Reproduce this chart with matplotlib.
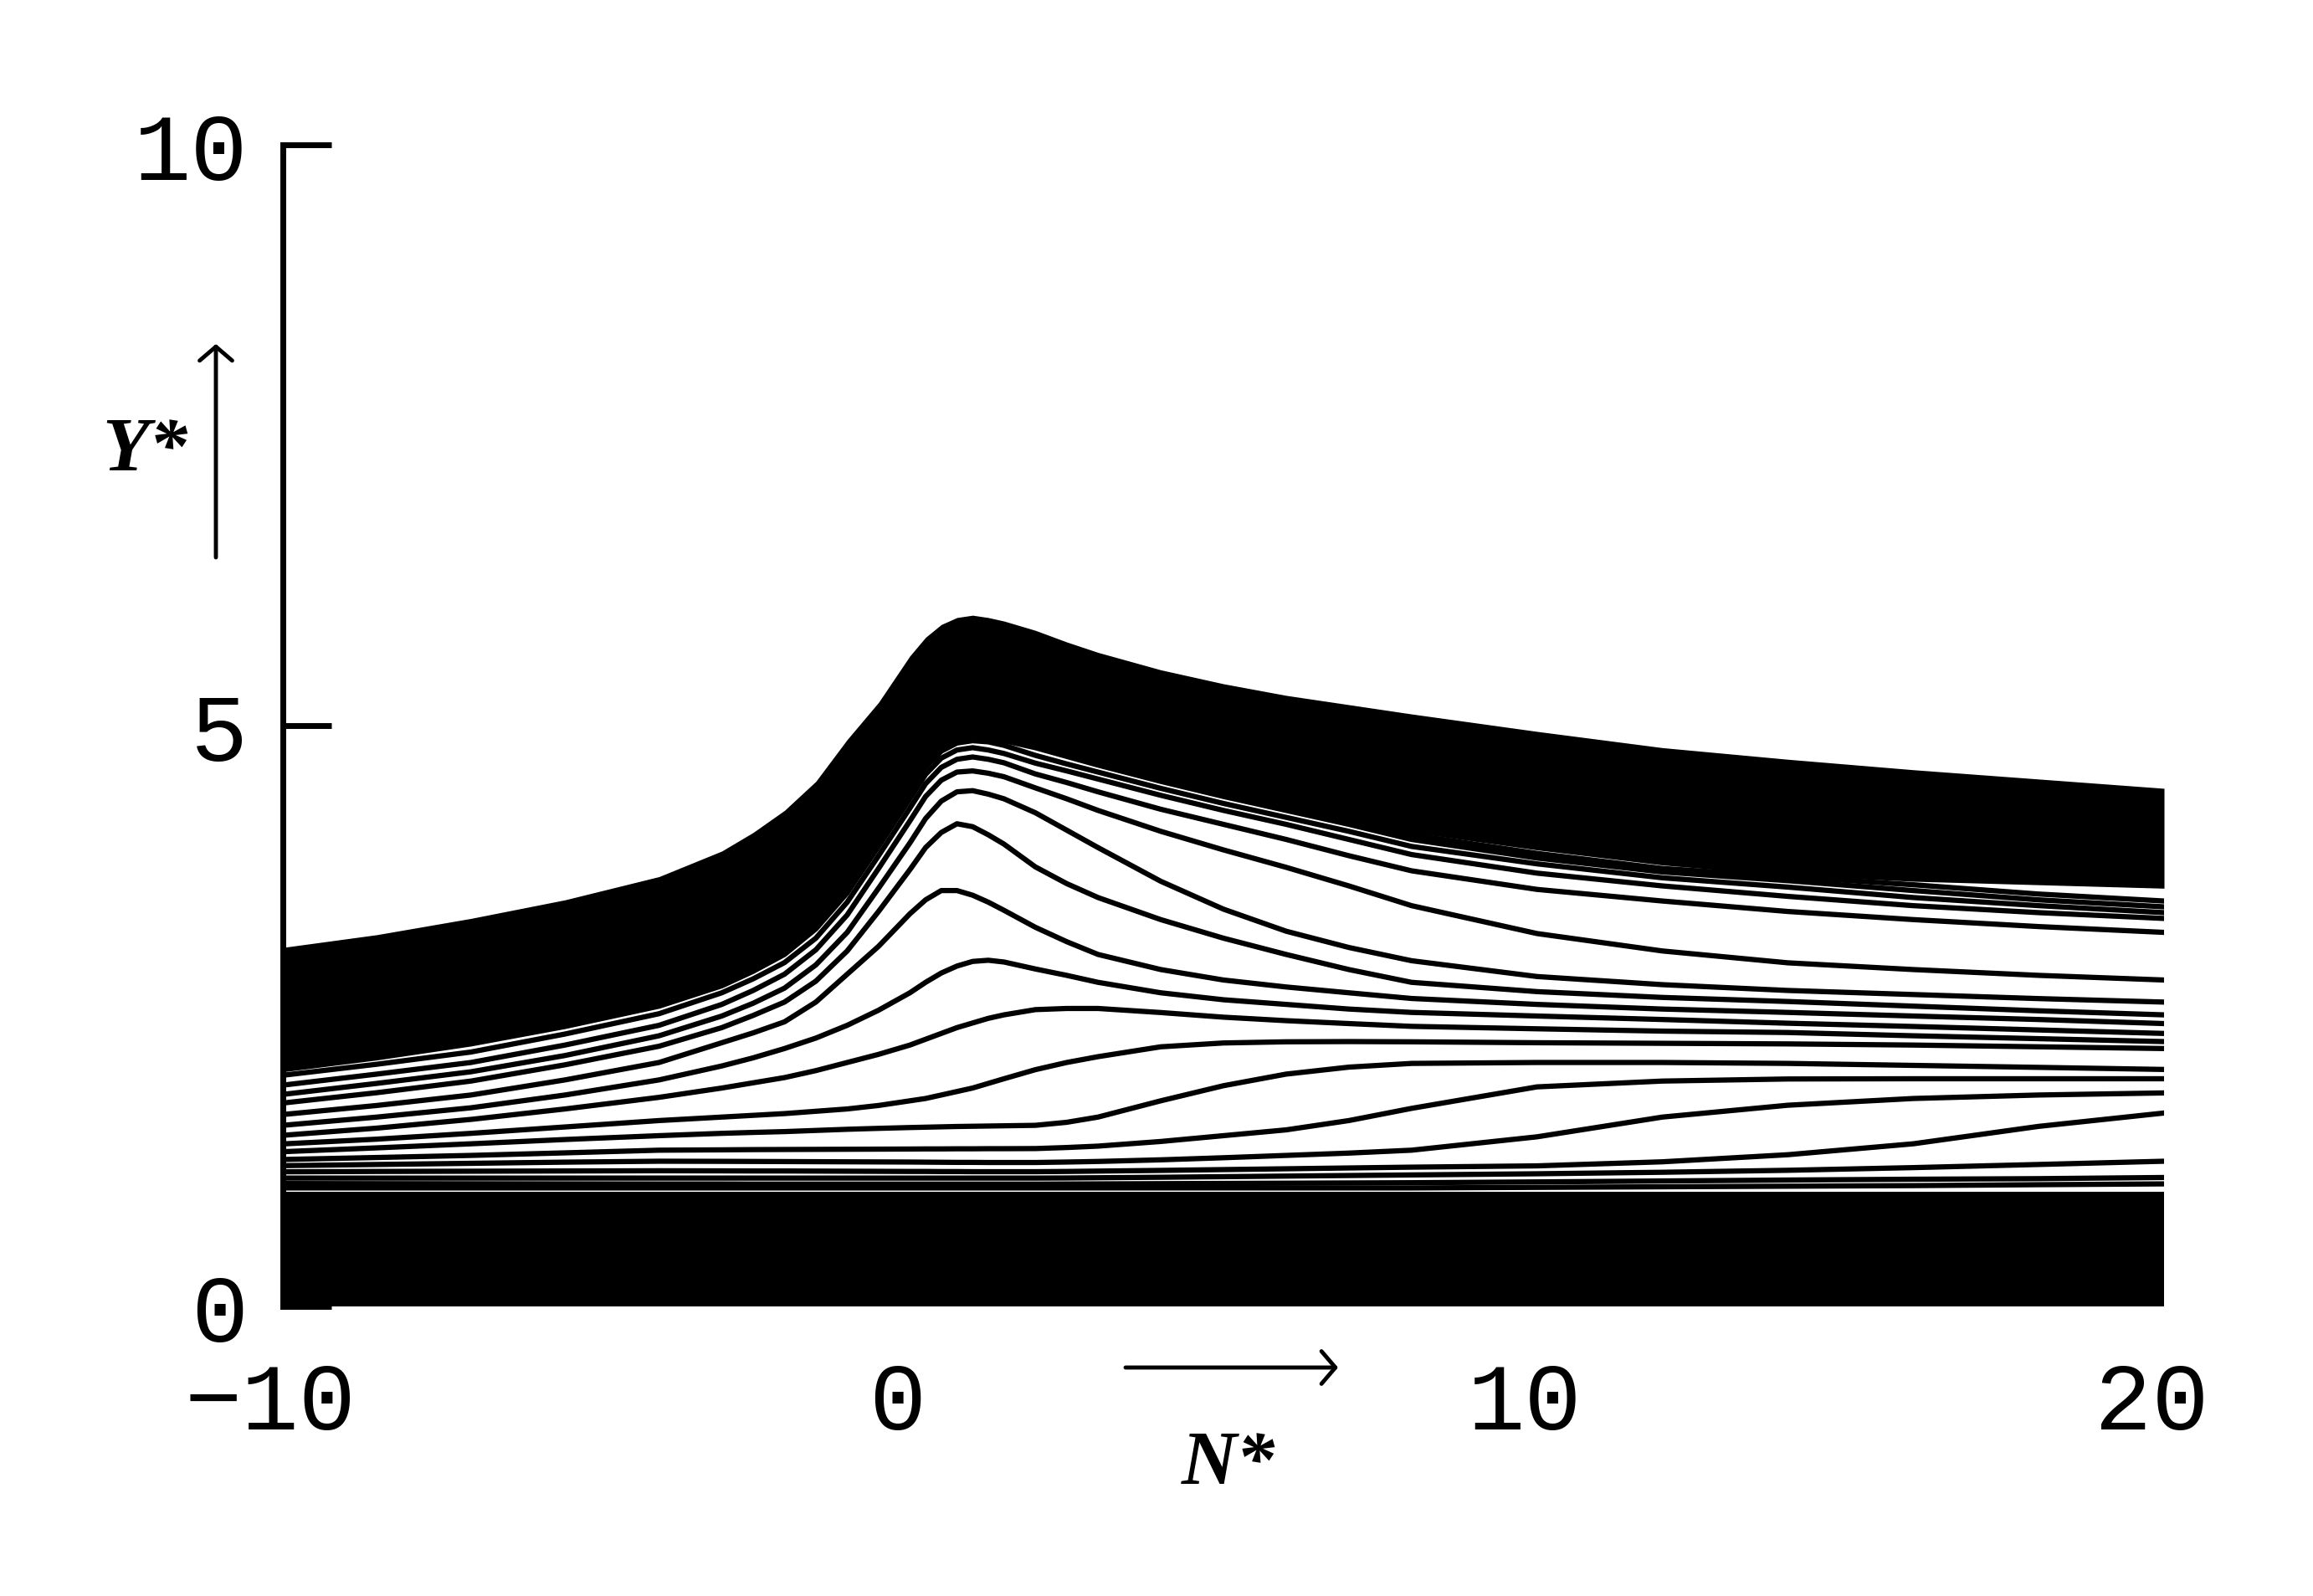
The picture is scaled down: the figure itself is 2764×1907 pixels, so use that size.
import matplotlib
matplotlib.use("Agg")
import matplotlib.pyplot as plt
from matplotlib.patches import FancyArrowPatch
from matplotlib.transforms import ScaledTranslation

N_GRID = [-10, -8.5, -7, -5.5, -4, -3, -2.5, -2, -1.5, -1, -0.5, 0, 0.25, 0.5, 0.75, 1,
          1.25, 1.5, 2, 2.5, 3, 4, 5, 6, 7, 8, 10, 12, 14, 16, 18, 20]

# upper black band (streamlines packed too close to resolve)
BAND_TOP = [3.09, 3.20, 3.34, 3.50, 3.70, 3.92, 4.08, 4.27, 4.52, 4.88, 5.20, 5.60, 5.76, 5.87, 5.93, 5.95,
            5.93, 5.90, 5.82, 5.72, 5.63, 5.48, 5.36, 5.26, 5.18, 5.10, 4.95, 4.81, 4.71, 4.62, 4.54, 4.46]
BAND_BOTTOM = [2.08, 2.20, 2.33, 2.49, 2.665, 2.84, 2.96, 3.10, 3.33, 3.65, 4.05, 4.47, 4.70, 4.85, 4.92, 4.94,
               4.93, 4.91, 4.85, 4.78, 4.71, 4.56, 4.43, 4.31, 4.19, 4.08, 3.93, 3.80, 3.71, 3.66, 3.63, 3.60]
# lower black band, from the wall up to this
LOW_BAND_TOP = [0.99, 0.99, 0.99, 0.99, 0.99, 0.99, 0.99, 0.99, 0.99, 0.99, 0.99, 0.99, 0.99, 0.99, 0.99, 0.99,
                0.99, 0.99, 0.99, 0.99, 0.99, 0.99, 0.99, 0.99, 0.99, 0.99, 0.99, 0.99, 0.99, 0.99, 0.99, 0.99]

# separate streamlines, bottom to top
S01 = [1.02, 1.02, 1.02, 1.02, 1.02, 1.02, 1.02, 1.02, 1.02, 1.02, 1.02, 1.02, 1.02, 1.02, 1.02, 1.02,
       1.02, 1.02, 1.02, 1.02, 1.02, 1.02, 1.02, 1.02, 1.02, 1.02, 1.025, 1.03, 1.035, 1.04, 1.048, 1.055]
S02 = [1.058, 1.057, 1.056, 1.055, 1.054, 1.054, 1.053, 1.053, 1.053, 1.053, 1.053, 1.053, 1.053, 1.053, 1.053, 1.053,
       1.053, 1.053, 1.053, 1.054, 1.055, 1.057, 1.059, 1.061, 1.063, 1.065, 1.072, 1.08, 1.088, 1.095, 1.10, 1.11]
S03 = [1.105, 1.105, 1.105, 1.105, 1.105, 1.105, 1.105, 1.105, 1.105, 1.105, 1.105, 1.105, 1.105, 1.105, 1.105, 1.105,
       1.105, 1.105, 1.105, 1.106, 1.108, 1.112, 1.117, 1.122, 1.127, 1.132, 1.142, 1.155, 1.172, 1.195, 1.222, 1.25]
S04 = [1.159, 1.162, 1.164, 1.166, 1.168, 1.167, 1.166, 1.166, 1.165, 1.164, 1.163, 1.162, 1.162, 1.161, 1.161, 1.160,
       1.160, 1.160, 1.160, 1.162, 1.165, 1.171, 1.178, 1.185, 1.192, 1.199, 1.21, 1.245, 1.306, 1.40, 1.55, 1.665]
S05 = [1.212, 1.222, 1.232, 1.242, 1.25, 1.249, 1.248, 1.247, 1.246, 1.245, 1.244, 1.243, 1.242, 1.241, 1.240, 1.240,
       1.239, 1.239, 1.239, 1.243, 1.248, 1.262, 1.28, 1.30, 1.32, 1.345, 1.46, 1.63, 1.732, 1.79, 1.82, 1.838]
S06 = [1.265, 1.282, 1.30, 1.322, 1.345, 1.348, 1.35, 1.351, 1.352, 1.353, 1.354, 1.355, 1.356, 1.356, 1.357, 1.357,
       1.358, 1.358, 1.359, 1.368, 1.38, 1.42, 1.47, 1.52, 1.60, 1.705, 1.89, 1.94, 1.958, 1.96, 1.96, 1.96]
S07 = [1.332, 1.365, 1.40, 1.437, 1.47, 1.49, 1.498, 1.505, 1.515, 1.525, 1.533, 1.54, 1.543, 1.546, 1.549, 1.551,
       1.553, 1.555, 1.559, 1.585, 1.63, 1.77, 1.90, 2.00, 2.06, 2.092, 2.10, 2.10, 2.092, 2.075, 2.058, 2.04]
S08 = [1.399, 1.44, 1.49, 1.545, 1.60, 1.63, 1.645, 1.66, 1.68, 1.70, 1.73, 1.77, 1.79, 1.82, 1.85, 1.88,
       1.92, 1.96, 2.038, 2.10, 2.15, 2.235, 2.268, 2.278, 2.28, 2.278, 2.27, 2.265, 2.26, 2.25, 2.235, 2.22]
S09 = [1.473, 1.535, 1.61, 1.70, 1.80, 1.88, 1.925, 1.97, 2.03, 2.10, 2.17, 2.25, 2.30, 2.35, 2.40, 2.44,
       2.48, 2.51, 2.555, 2.565, 2.565, 2.53, 2.49, 2.46, 2.435, 2.411, 2.39, 2.37, 2.358, 2.33, 2.305, 2.28]
S10 = [1.559, 1.63, 1.71, 1.82, 1.95, 2.07, 2.14, 2.22, 2.31, 2.42, 2.55, 2.70, 2.79, 2.87, 2.93, 2.97,
       2.98, 2.965, 2.905, 2.85, 2.79, 2.70, 2.64, 2.60, 2.56, 2.531, 2.50, 2.47, 2.438, 2.41, 2.38, 2.35]
S11 = [1.652, 1.73, 1.82, 1.95, 2.10, 2.27, 2.355, 2.45, 2.62, 2.86, 3.10, 3.38, 3.50, 3.58, 3.58, 3.54,
       3.48, 3.41, 3.264, 3.14, 3.03, 2.90, 2.81, 2.75, 2.70, 2.651, 2.60, 2.56, 2.531, 2.50, 2.47, 2.435]
S12 = [1.751, 1.84, 1.94, 2.08, 2.24, 2.40, 2.505, 2.62, 2.80, 3.06, 3.40, 3.76, 3.95, 4.08, 4.155, 4.13,
       4.06, 3.98, 3.784, 3.64, 3.52, 3.33, 3.17, 3.03, 2.90, 2.79, 2.71, 2.66, 2.625, 2.585, 2.545, 2.51]
S13 = [1.825, 1.92, 2.02, 2.16, 2.33, 2.50, 2.61, 2.74, 2.94, 3.22, 3.60, 3.99, 4.20, 4.35, 4.43, 4.44,
       4.41, 4.37, 4.25, 4.10, 3.95, 3.66, 3.42, 3.23, 3.09, 2.976, 2.84, 2.77, 2.72, 2.685, 2.65, 2.62]
S14 = [1.905, 2.00, 2.10, 2.25, 2.42, 2.60, 2.72, 2.86, 3.07, 3.37, 3.77, 4.18, 4.39, 4.53, 4.60, 4.61,
       4.59, 4.56, 4.464, 4.37, 4.27, 4.09, 3.93, 3.78, 3.62, 3.45, 3.21, 3.06, 2.958, 2.90, 2.85, 2.81]
S15 = [1.990, 2.085, 2.19, 2.345, 2.52, 2.70, 2.82, 2.96, 3.17, 3.48, 3.88, 4.29, 4.50, 4.64, 4.71, 4.73,
       4.71, 4.68, 4.584, 4.51, 4.43, 4.28, 4.15, 4.02, 3.88, 3.75, 3.59, 3.49, 3.40, 3.33, 3.27, 3.22]
S16 = [2.038, 2.14, 2.26, 2.41, 2.585, 2.76, 2.885, 3.03, 3.25, 3.56, 3.96, 4.37, 4.58, 4.72, 4.79, 4.81,
       4.79, 4.76, 4.677, 4.61, 4.54, 4.40, 4.27, 4.15, 4.02, 3.89, 3.73, 3.62, 3.53, 3.45, 3.39, 3.34]
S17 = [2.07, 2.18, 2.30, 2.45, 2.625, 2.80, 2.925, 3.07, 3.29, 3.61, 4.01, 4.42, 4.64, 4.78, 4.85, 4.87,
       4.86, 4.83, 4.744, 4.67, 4.60, 4.46, 4.33, 4.21, 4.09, 3.96, 3.81, 3.69, 3.61, 3.52, 3.45, 3.39]
S18 = [2.075, 2.195, 2.32, 2.475, 2.65, 2.825, 2.945, 3.085, 3.315, 3.635, 4.035, 4.45, 4.67, 4.82, 4.89, 4.91,
       4.90, 4.87, 4.81, 4.735, 4.66, 4.52, 4.39, 4.27, 4.15, 4.02, 3.86, 3.74, 3.665, 3.58, 3.50, 3.44]
S19 = [2.08, 2.20, 2.33, 2.485, 2.66, 2.835, 2.955, 3.095, 3.325, 3.645, 4.045, 4.46, 4.69, 4.84, 4.91, 4.93,
       4.92, 4.90, 4.84, 4.77, 4.70, 4.55, 4.42, 4.30, 4.18, 4.06, 3.90, 3.77, 3.70, 3.63, 3.55, 3.49]

STREAMLINES = [S01, S02, S03, S04, S05, S06, S07, S08, S09, S10,
               S11, S12, S13, S14, S15, S16, S17, S18, S19]

Y_TICKS = [0, 5, 10]
Y_TICK_LABELS = ["0", "5", "10"]
X_TICKS = [-10, 0, 10, 20]
X_TICK_LABELS = ["\u221210", "0", "10", "20"]

W, H = 2764, 1908
fig = plt.figure(figsize=(W / 100, H / 100), dpi=100)
fig.patch.set_facecolor("white")


def fx(px):
    return px / W


def fy(py):
    return 1 - py / H


ax = fig.add_axes([fx(338), fy(1562), fx(2586) - fx(338), fy(174) - fy(1562)])

ax.fill_between(N_GRID, BAND_BOTTOM, BAND_TOP, color="black", lw=0)
ax.fill_between(N_GRID, 0, LOW_BAND_TOP, color="black", lw=0)
for s in STREAMLINES:
    ax.plot(N_GRID, s, color="black", lw=4.5, solid_joinstyle="round")

ax.set_xlim(-10, 20)
ax.set_ylim(0, 10)

for side in ["top", "right", "bottom"]:
    ax.spines[side].set_visible(False)
ax.spines["left"].set_linewidth(5)
ax.spines["left"].set_capstyle("projecting")

tick_font = dict(family="Liberation Mono", size=82)
ax.set_yticks(Y_TICKS)
ax.set_yticklabels(Y_TICK_LABELS, fontdict=tick_font)
ax.tick_params(axis="y", direction="in", length=42, width=5, pad=30)
ax.set_xticks(X_TICKS)
ax.set_xticklabels(X_TICK_LABELS, fontdict=tick_font)
ax.tick_params(axis="x", length=0, pad=46)
for lbl in ax.get_xticklabels():
    lbl.set_transform(lbl.get_transform() + ScaledTranslation(-0.15, 0, fig.dpi_scale_trans))

# axis names with their arrows
fig.text(fx(122), fy(562), "Y*", family="Liberation Serif", style="italic", weight="bold",
         fontsize=66, ha="left", va="baseline")
fig.text(fx(1412), fy(1773), "N*", family="Liberation Serif", style="italic", weight="bold",
         fontsize=66, ha="left", va="baseline")

arrow_style = "->,head_length=0.6,head_width=0.7"
for tail, tip in [((258, 667), (258, 412)), ((1345, 1635), (1599, 1635))]:
    arr = FancyArrowPatch((fx(tail[0]), fy(tail[1])), (fx(tip[0]), fy(tip[1])),
                          transform=fig.transFigure, arrowstyle=arrow_style,
                          mutation_scale=20, lw=3.5, color="black",
                          shrinkA=0, shrinkB=0)
    fig.add_artist(arr)

fig.savefig("out.png", dpi=100)
